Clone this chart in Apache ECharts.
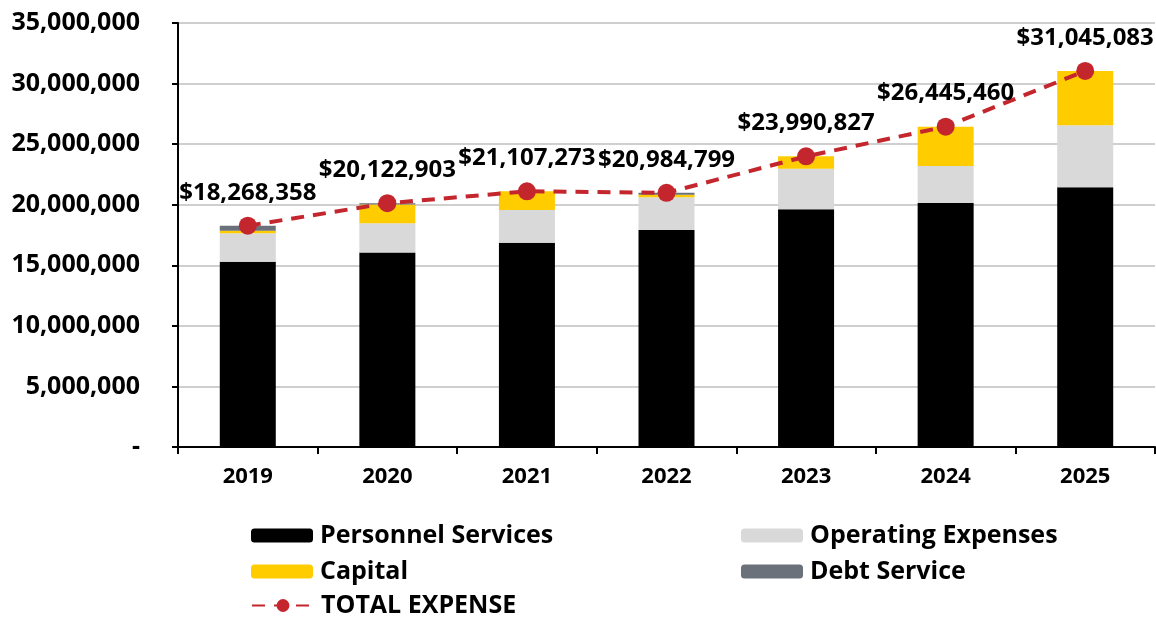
<!DOCTYPE html>
<html>
<head>
<meta charset="utf-8">
<script src="https://cdn.jsdelivr.net/npm/echarts@6/dist/echarts.min.js"></script>
<style>
html,body{margin:0;padding:0;background:#fff;}
#chart{width:1156px;height:618px;}
</style>
</head>
<body>
<div id="chart"></div>
<script>
// Fiscal years shown on the category axis
const years = ['2019', '2020', '2021', '2022', '2023', '2024', '2025'];

// Expense components per year (dollars)
const personnelServices = [15300000, 16050000, 16870000, 17920000, 19620000, 20150000, 21440000];
const operatingExpenses = [2350000, 2420000, 2700000, 2700000, 3340000, 3050000, 5120000];
const capital = [200000, 1540000, 1537273, 200000, 1030827, 3245460, 4485083];
const debtService = [418358, 112903, 0, 164799, 0, 0, 0];

// Total expense per year
const totalExpense = [18268358, 20122903, 21107273, 20984799, 23990827, 26445460, 31045083];

const withCommas = v => String(Math.round(v)).replace(/\B(?=(\d{3})+(?!\d))/g, ',');

const FONT = '"Open Sans"';

function legendAt(name, left, top, itemHeight) {
  return {
    data: [name],
    left: left, top: top,
    itemWidth: 62, itemHeight: itemHeight || 14, itemGap: 6,
    textStyle: { fontFamily: FONT, fontWeight: 'bold', fontSize: 25, color: '#000', padding: [0, 0, 0, 2] }
  };
}

const chart = echarts.init(document.getElementById('chart'), null, { renderer: 'canvas' });
chart.setOption({
  animation: false,
  grid: { left: 178, right: 1, top: 23, bottom: 171 },
  legend: [
    legendAt('Personnel Services', 246, 518),
    legendAt('Operating Expenses', 736, 518),
    legendAt('Capital', 246, 554),
    legendAt('Debt Service', 736, 554),
    legendAt('TOTAL EXPENSE', 246, 588, 16)
  ],
  xAxis: {
    type: 'category',
    data: years,
    axisLine: { lineStyle: { color: '#000', width: 2 } },
    axisTick: { show: true, length: 7, interval: 0, lineStyle: { color: '#000', width: 2 } },
    axisLabel: { fontFamily: FONT, fontWeight: 'bold', fontSize: 22, color: '#000', margin: 19 }
  },
  yAxis: {
    type: 'value',
    min: 0, max: 35000000, interval: 5000000,
    axisLine: { show: true, lineStyle: { color: '#000', width: 2 } },
    axisTick: { show: true, length: 6, lineStyle: { color: '#000', width: 2 } },
    splitLine: { lineStyle: { color: '#bfbfbf', width: 1.5 } },
    axisLabel: {
      fontFamily: FONT, fontWeight: 'bold', fontSize: 25, color: '#000', margin: 38,
      formatter: v => v === 0 ? '-' : withCommas(v)
    }
  },
  series: [
    { name: 'Personnel Services', type: 'bar', stack: 'exp', barWidth: 56, data: personnelServices, itemStyle: { color: '#000000' } },
    { name: 'Operating Expenses', type: 'bar', stack: 'exp', data: operatingExpenses, itemStyle: { color: '#d9d9d9' } },
    { name: 'Capital', type: 'bar', stack: 'exp', data: capital, itemStyle: { color: '#ffcc00' } },
    { name: 'Debt Service', type: 'bar', stack: 'exp', data: debtService, itemStyle: { color: '#6b717a' } },
    {
      name: 'TOTAL EXPENSE', type: 'line', data: totalExpense, z: 10,
      symbol: 'circle', symbolSize: 18,
      itemStyle: { color: '#c4262e' },
      lineStyle: { color: '#c4262e', width: 4, type: [13, 9] },
      label: {
        show: true, position: 'top', distance: 12,
        fontFamily: FONT, fontWeight: 'bold', fontSize: 24, color: '#000',
        formatter: p => '$' + withCommas(p.value)
      }
    }
  ]
});
</script>
</body>
</html>
